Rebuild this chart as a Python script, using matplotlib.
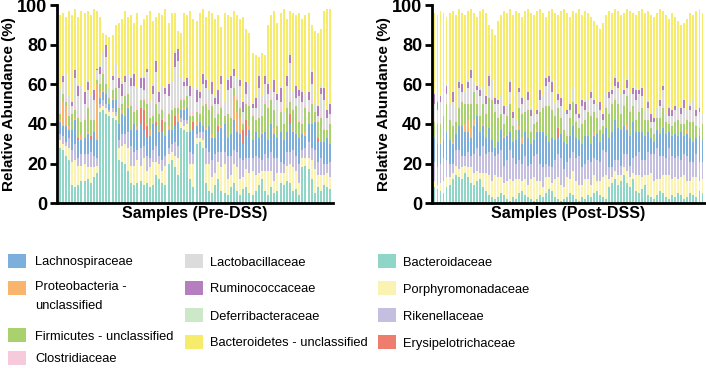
import numpy as np
import matplotlib.pyplot as plt
from matplotlib.patches import Rectangle

plt.rcParams['font.family'] = ['Liberation Sans', 'DejaVu Sans']

# families in stacking order (bottom -> top), last one fills up to the total
families = ["Bacteroidaceae", "Porphyromonadaceae", "Rikenellaceae", "Lachnospiraceae",
            "Erysipelotrichaceae", "Proteobacteria - unclassified", "Firmicutes - unclassified",
            "Clostridiaceae", "Lactobacillaceae", "Ruminococcaceae", "Deferribacteraceae",
            "Bacteroidetes - unclassified"]
colors = {
    "Lachnospiraceae": "#7DAFDC",
    "Proteobacteria - unclassified": "#F9B46E",
    "Firmicutes - unclassified": "#A9D16E",
    "Clostridiaceae": "#F6CADB",
    "Lactobacillaceae": "#DCDCDC",
    "Ruminococcaceae": "#B57EBF",
    "Deferribacteraceae": "#CDE8C9",
    "Bacteroidetes - unclassified": "#F7EB6C",
    "Bacteroidaceae": "#8FD6C6",
    "Porphyromonadaceae": "#FAF3B2",
    "Rikenellaceae": "#C4BFE0",
    "Erysipelotrichaceae": "#EE7D6E",
}

# ---- Pre-DSS (88 samples) ----
pre_bacteroidaceae = [28, 27, 24, 22, 9, 8, 9, 11, 11, 12, 10, 13, 15, 46, 47, 45,
                      44, 43, 42, 22, 21, 20, 16, 10, 9, 10, 11, 9, 10, 8, 9, 14,
                      12, 10, 9, 20, 22, 18, 14, 38, 37, 36, 12, 8, 30, 31, 28, 10,
                      6, 5, 9, 12, 6, 5, 4, 8, 10, 6, 4, 7, 8, 5, 4, 6,
                      9, 12, 6, 4, 8, 5, 6, 10, 9, 11, 10, 6, 7, 4, 18, 19,
                      17, 12, 5, 8, 6, 9, 8, 7]
pre_porphyromonadaceae = [4, 3, 5, 6, 12, 14, 10, 8, 9, 6, 8, 5, 4, 2, 2, 3,
                          2, 3, 2, 6, 8, 10, 12, 9, 10, 12, 8, 14, 6, 10, 12, 7,
                          8, 6, 10, 5, 4, 6, 9, 3, 2, 4, 8, 12, 3, 2, 4, 10,
                          14, 8, 6, 9, 12, 15, 8, 6, 10, 12, 8, 6, 9, 10, 12, 8,
                          6, 4, 10, 12, 8, 6, 9, 5, 6, 8, 10, 12, 9, 6, 5, 4,
                          6, 10, 12, 6, 8, 5, 7, 6]
pre_rikenellaceae = [3, 4, 2, 5, 6, 8, 4, 6, 5, 7, 8, 6, 4, 2, 3, 2,
                     1, 2, 2, 4, 6, 5, 8, 10, 7, 5, 9, 6, 8, 5, 6, 8,
                     4, 6, 5, 3, 4, 7, 6, 2, 3, 2, 6, 5, 2, 3, 4, 8,
                     6, 9, 10, 5, 8, 6, 12, 10, 7, 8, 11, 9, 6, 8, 7, 10,
                     8, 6, 9, 7, 10, 12, 8, 6, 5, 7, 6, 9, 8, 10, 4, 5,
                     8, 6, 10, 7, 9, 6, 5, 8]
pre_lachnospiraceae = [6, 5, 8, 4, 10, 12, 9, 7, 8, 10, 6, 12, 9, 3, 4, 5,
                       3, 4, 6, 8, 10, 9, 12, 8, 14, 10, 12, 8, 9, 11, 13, 10,
                       12, 14, 10, 9, 7, 8, 12, 4, 5, 6, 10, 12, 4, 5, 3, 9,
                       13, 11, 8, 10, 12, 14, 9, 11, 15, 10, 12, 8, 11, 14, 9, 12,
                       10, 13, 11, 9, 14, 12, 10, 15, 12, 10, 14, 9, 11, 13, 8, 6,
                       9, 12, 14, 10, 8, 11, 13, 9]
pre_erysipelotrichaceae = [0, 0, 0, 0, 0, 0, 1, 0, 0, 0, 2, 0, 0, 0, 0, 0,
                           0, 0, 0, 0, 0, 0, 0, 0, 0, 0, 8, 10, 6, 0, 0, 2,
                           0, 6, 0, 0, 0, 5, 0, 0, 0, 0, 0, 4, 0, 0, 0, 0,
                           0, 0, 0, 3, 0, 0, 0, 0, 0, 0, 0, 7, 8, 0, 0, 0,
                           0, 0, 0, 0, 0, 0, 0, 0, 0, 0, 5, 0, 0, 0, 0, 0,
                           0, 0, 0, 2, 0, 0, 0, 0]
pre_proteobacteria = [1, 12, 10, 2, 0, 1, 0, 3, 0, 1, 0, 0, 28, 3, 1, 0,
                      0, 1, 0, 0, 2, 0, 1, 0, 0, 2, 0, 0, 1, 3, 0, 0,
                      1, 0, 0, 2, 0, 0, 4, 0, 1, 0, 0, 0, 2, 0, 0, 1,
                      0, 2, 0, 0, 1, 0, 0, 0, 12, 10, 8, 0, 0, 2, 0, 0,
                      0, 1, 0, 0, 0, 3, 0, 0, 0, 0, 0, 1, 0, 0, 0, 2,
                      0, 0, 1, 0, 0, 0, 0, 0]
pre_firmicutes = [3, 4, 2, 5, 8, 4, 10, 6, 9, 12, 8, 6, 2, 4, 8, 5,
                  3, 4, 6, 8, 3, 10, 6, 12, 6, 8, 4, 5, 10, 6, 4, 9,
                  8, 5, 7, 6, 10, 4, 3, 5, 4, 6, 8, 3, 5, 4, 10, 12,
                  8, 14, 10, 6, 9, 4, 12, 8, 4, 6, 5, 3, 8, 10, 12, 6,
                  10, 8, 14, 16, 12, 9, 6, 10, 8, 12, 6, 10, 14, 8, 5, 12,
                  6, 10, 4, 8, 12, 6, 4, 10]
pre_clostridiaceae = [1, 0, 2, 1, 0, 2, 1, 0, 2, 1, 0, 1, 0, 1, 2, 0,
                      1, 0, 1, 2, 0, 1, 0, 2, 1, 2, 0, 1, 2, 0, 1, 1,
                      0, 1, 2, 1, 0, 1, 2, 1, 1, 0, 1, 2, 1, 0, 1, 2,
                      2, 1, 0, 1, 2, 1, 0, 1, 1, 2, 1, 0, 1, 2, 1, 0,
                      1, 0, 2, 1, 1, 0, 1, 2, 0, 1, 2, 1, 0, 1, 2, 1,
                      1, 2, 0, 1, 2, 1, 0, 1]
pre_lactobacillaceae = [10, 6, 12, 8, 4, 14, 10, 18, 6, 8, 12, 9, 5, 4, 10, 14,
                        3, 5, 12, 8, 4, 6, 10, 8, 12, 9, 6, 4, 14, 8, 10, 15,
                        6, 10, 12, 8, 14, 20, 22, 10, 6, 5, 9, 12, 4, 8, 10, 6,
                        8, 5, 7, 4, 10, 6, 12, 14, 5, 8, 10, 6, 4, 8, 3, 6,
                        14, 10, 8, 6, 4, 9, 12, 3, 6, 10, 18, 8, 4, 12, 9, 6,
                        5, 8, 4, 2, 10, 14, 6, 4]
pre_ruminococcaceae = [0, 3, 0, 0, 2, 4, 5, 0, 6, 4, 0, 5, 1, 4, 0, 6,
                       0, 2, 0, 5, 6, 3, 0, 4, 6, 0, 5, 6, 2, 0, 4, 6,
                       5, 0, 3, 6, 0, 7, 6, 0, 2, 4, 5, 0, 6, 3, 5, 4,
                       0, 6, 3, 7, 4, 0, 5, 6, 4, 0, 3, 5, 6, 0, 2, 5,
                       6, 0, 4, 5, 0, 6, 3, 7, 0, 5, 4, 0, 6, 3, 5, 0,
                       4, 6, 0, 5, 3, 6, 4, 5]
pre_deferribacteraceae = [1, 0, 0, 1, 0, 0, 1, 0, 0, 1, 0, 0, 0, 1, 0, 0,
                          1, 0, 0, 0, 1, 0, 0, 1, 0, 0, 0, 1, 0, 0, 1, 0,
                          0, 1, 0, 0, 0, 1, 0, 0, 1, 0, 0, 0, 1, 0, 0, 1,
                          0, 0, 1, 0, 0, 0, 1, 0, 0, 1, 0, 0, 0, 1, 0, 0,
                          1, 0, 0, 1, 0, 0, 0, 1, 0, 0, 1, 0, 0, 0, 1, 0,
                          0, 1, 0, 0, 1, 0, 0, 0]
pre_total = [95, 96, 94, 97, 95, 98, 94, 97, 96, 97, 95, 98, 97, 94, 86, 85,
             84, 85, 90, 91, 93, 97, 94, 95, 91, 96, 90, 93, 95, 97, 92, 94,
             96, 95, 98, 91, 96, 96, 87, 86, 96, 95, 97, 93, 92, 96, 98, 94,
             97, 96, 93, 95, 89, 96, 95, 94, 97, 95, 93, 94, 88, 86, 76, 75,
             74, 76, 75, 90, 95, 97, 91, 96, 98, 93, 97, 96, 95, 96, 93, 95,
             96, 90, 87, 86, 88, 97, 98, 98]

# ---- Post-DSS (90 samples) ----
post_bacteroidaceae = [8, 7, 6, 5, 8, 9, 12, 14, 13, 12, 15, 13, 10, 9, 11, 12, 8, 6, 4, 3,
                       2, 3, 5, 4, 2, 1, 3, 2, 5, 6, 4, 3, 2, 1, 2, 4, 3, 5, 7, 6,
                       3, 2, 1, 2, 3, 5, 4, 2, 1, 3, 2, 4, 3, 5, 6, 4, 3, 2, 8, 10,
                       12, 9, 11, 14, 10, 8, 12, 6, 5, 7, 9, 4, 3, 2, 4, 6, 5, 3, 2, 4,
                       3, 5, 4, 2, 3, 5, 4, 3, 6, 5]
post_porphyromonadaceae = [3, 2, 4, 6, 5, 4, 3, 5, 4, 6, 4, 5, 8, 6, 5, 3, 7, 9, 10, 8,
                           12, 10, 8, 6, 9, 11, 8, 10, 7, 5, 8, 6, 10, 12, 9, 7, 5, 8, 6, 4,
                           9, 11, 8, 6, 10, 7, 12, 9, 8, 6, 10, 8, 6, 9, 5, 7, 10, 12, 4, 3,
                           4, 5, 3, 4, 6, 5, 3, 8, 9, 6, 5, 10, 12, 9, 8, 6, 9, 11, 12, 8,
                           10, 7, 9, 12, 8, 6, 9, 10, 5, 7]
post_rikenellaceae = [10, 9, 10, 12, 9, 7, 5, 8, 10, 6, 5, 8, 6, 10, 12, 9, 14, 10, 12, 15,
                      10, 12, 14, 9, 11, 15, 12, 8, 10, 9, 12, 10, 8, 11, 14, 9, 10, 7, 6, 8,
                      10, 12, 14, 9, 8, 11, 10, 12, 15, 9, 8, 10, 12, 9, 11, 10, 14, 12, 6, 5,
                      6, 8, 5, 7, 9, 6, 8, 10, 12, 9, 8, 12, 10, 14, 16, 12, 10, 9, 14, 12,
                      10, 12, 9, 11, 13, 10, 8, 12, 10, 9]
post_lachnospiraceae = [12, 12, 10, 9, 14, 12, 10, 8, 12, 15, 12, 10, 9, 14, 16, 12, 10, 8, 12, 6,
                        4, 6, 10, 14, 12, 9, 8, 12, 15, 10, 12, 14, 10, 8, 11, 16, 18, 14, 12, 15,
                        10, 8, 12, 14, 9, 11, 13, 10, 8, 12, 14, 12, 9, 11, 13, 10, 8, 12, 15, 18,
                        20, 16, 18, 14, 12, 15, 18, 12, 10, 14, 12, 10, 8, 6, 9, 11, 14, 12, 8, 10,
                        12, 10, 14, 9, 11, 12, 10, 8, 13, 11]
post_erysipelotrichaceae = [0, 0, 0, 0, 0, 0, 0, 0, 0, 0, 0, 0, 0, 0, 0, 0, 0, 0, 0, 0,
                            0, 0, 0, 0, 0, 0, 0, 0, 0, 0, 0, 0, 0, 0, 0, 0, 0, 0, 0, 0,
                            0, 5, 0, 0, 0, 0, 0, 0, 0, 0, 0, 0, 0, 0, 0, 0, 0, 0, 0, 0,
                            0, 0, 0, 0, 0, 0, 0, 0, 0, 0, 0, 0, 0, 0, 0, 0, 0, 0, 0, 0,
                            0, 0, 0, 0, 0, 0, 0, 0, 0, 0]
post_proteobacteria = [0, 0, 1, 0, 0, 0, 1, 0, 0, 0, 4, 6, 5, 3, 0, 0, 1, 0, 0, 0,
                       0, 0, 0, 1, 0, 0, 0, 0, 2, 3, 0, 0, 0, 0, 1, 0, 0, 0, 0, 0,
                       0, 0, 0, 0, 0, 0, 0, 0, 0, 0, 0, 0, 0, 2, 0, 0, 0, 0, 0, 0,
                       0, 0, 0, 0, 3, 0, 0, 0, 0, 0, 0, 0, 0, 0, 0, 0, 0, 0, 0, 0,
                       0, 0, 0, 0, 2, 0, 0, 0, 0, 0]
post_firmicutes = [8, 10, 9, 12, 14, 10, 8, 6, 9, 12, 10, 8, 12, 14, 6, 8, 10, 12, 15, 20,
                   18, 12, 8, 6, 10, 14, 8, 5, 9, 12, 10, 14, 6, 8, 4, 10, 12, 15, 18, 14,
                   12, 10, 8, 6, 4, 9, 12, 8, 6, 10, 8, 12, 14, 10, 8, 6, 4, 10, 12, 14,
                   10, 12, 8, 10, 14, 12, 8, 6, 10, 12, 8, 6, 5, 4, 6, 8, 10, 6, 4, 5,
                   6, 8, 4, 6, 5, 8, 10, 6, 4, 8]
post_clostridiaceae = [1, 0, 1, 0, 1, 0, 0, 1, 0, 1, 0, 0, 1, 0, 1, 0, 0, 1, 0, 1,
                       0, 1, 0, 0, 1, 0, 1, 0, 0, 1, 0, 1, 0, 0, 1, 0, 1, 0, 0, 1,
                       0, 0, 1, 0, 1, 0, 0, 1, 0, 1, 0, 0, 1, 0, 1, 0, 0, 1, 0, 1,
                       1, 0, 0, 1, 0, 1, 0, 0, 1, 0, 1, 0, 0, 1, 0, 0, 1, 0, 1, 0,
                       0, 1, 0, 0, 1, 0, 1, 0, 0, 1]
post_lactobacillaceae = [8, 7, 10, 6, 4, 8, 12, 6, 10, 4, 6, 8, 12, 5, 6, 10, 8, 4, 6, 9,
                         4, 6, 8, 5, 4, 6, 3, 5, 8, 4, 6, 4, 8, 5, 3, 6, 4, 10, 12, 8,
                         6, 4, 5, 8, 10, 4, 6, 3, 5, 8, 5, 6, 8, 4, 6, 10, 3, 5, 8, 4,
                         6, 8, 10, 5, 4, 8, 6, 10, 8, 6, 4, 6, 3, 5, 4, 6, 8, 4, 3, 5,
                         6, 4, 5, 8, 4, 6, 10, 5, 8, 4]
post_ruminococcaceae = [5, 4, 3, 0, 4, 0, 5, 0, 3, 4, 0, 3, 4, 0, 2, 3, 0, 4, 5, 0,
                        3, 2, 0, 4, 0, 5, 3, 0, 2, 3, 0, 4, 3, 0, 2, 5, 0, 4, 3, 5,
                        0, 3, 4, 0, 2, 3, 0, 5, 2, 3, 4, 0, 3, 2, 0, 4, 3, 0, 3, 2,
                        4, 3, 0, 2, 4, 0, 3, 5, 2, 4, 0, 3, 4, 2, 0, 3, 2, 0, 4, 3,
                        2, 0, 3, 4, 0, 2, 0, 3, 2, 0]
post_deferribacteraceae = [0, 1, 0, 0, 1, 0, 0, 0, 1, 0, 0, 1, 0, 0, 0, 1, 0, 0, 1, 0,
                           0, 0, 1, 0, 0, 1, 0, 0, 0, 1, 0, 0, 1, 0, 0, 0, 1, 0, 0, 1,
                           0, 0, 0, 1, 0, 0, 1, 0, 0, 0, 1, 0, 0, 1, 0, 0, 0, 1, 0, 0,
                           1, 0, 0, 0, 1, 0, 0, 1, 0, 0, 0, 1, 0, 0, 1, 0, 0, 0, 1, 0,
                           0, 1, 0, 0, 0, 1, 0, 0, 1, 0]
post_total = [96, 95, 97, 96, 94, 96, 97, 95, 98, 96, 95, 97, 98, 96, 94, 97, 98, 96, 90, 88,
              85, 92, 95, 97, 96, 98, 95, 97, 96, 94, 97, 98, 96, 95, 97, 98, 96, 94, 97, 98,
              96, 95, 97, 98, 96, 94, 97, 96, 98, 95, 97, 96, 94, 92, 90, 88, 91, 95, 97, 96,
              98, 97, 95, 96, 98, 97, 96, 95, 97, 98, 96, 97, 95, 94, 96, 98, 97, 95, 93, 96,
              94, 92, 90, 91, 93, 96, 95, 97, 98, 96]

pre_layers = [pre_bacteroidaceae, pre_porphyromonadaceae, pre_rikenellaceae, pre_lachnospiraceae,
              pre_erysipelotrichaceae, pre_proteobacteria, pre_firmicutes, pre_clostridiaceae,
              pre_lactobacillaceae, pre_ruminococcaceae, pre_deferribacteraceae]
post_layers = [post_bacteroidaceae, post_porphyromonadaceae, post_rikenellaceae, post_lachnospiraceae,
               post_erysipelotrichaceae, post_proteobacteria, post_firmicutes, post_clostridiaceae,
               post_lactobacillaceae, post_ruminococcaceae, post_deferribacteraceae]


def stacked(ax, layers, total, xlabel):
    layers = [np.array(l, dtype=float) for l in layers]
    top = np.array(total, dtype=float) - np.sum(layers, axis=0)
    layers.append(top)
    x = np.arange(len(total))
    bottom = np.zeros(len(total))
    for name, vals in zip(families, layers):
        ax.bar(x, vals, 0.64, bottom=bottom, color=colors[name], linewidth=0)
        bottom += vals
    ax.set_xlim(-0.8, len(total) - 0.3)
    ax.set_ylim(0, 100)
    ax.set_yticks([0, 20, 40, 60, 80, 100])
    ax.set_xticks([])
    for s in ["top", "right"]:
        ax.spines[s].set_visible(False)
    for s in ["left", "bottom"]:
        ax.spines[s].set_linewidth(2)
    ax.tick_params(axis="y", width=2, length=5, pad=2, labelsize=13)
    for lab in ax.get_yticklabels():
        lab.set_fontweight("bold")
    ax.set_xlabel(xlabel, fontsize=11.5, fontweight="bold", labelpad=2)
    ax.set_ylabel("Relative Abundance (%)", fontsize=11, fontweight="bold", labelpad=1)


fig = plt.figure(figsize=(7.06, 3.68), dpi=100)
ax1 = fig.add_axes([0.081, 0.448, 0.390, 0.538])
ax2 = fig.add_axes([0.612, 0.448, 0.386, 0.538])
stacked(ax1, pre_layers, pre_total, "Samples (Pre-DSS)")
stacked(ax2, post_layers, post_total, "Samples (Post-DSS)")

# legend, three columns laid out like the original
legend_cols = [
    [("Lachnospiraceae", "Lachnospiraceae", 261),
     ("Proteobacteria - unclassified", "Proteobacteria -\nunclassified", 288),
     ("Firmicutes - unclassified", "Firmicutes - unclassified", 335),
     ("Clostridiaceae", "Clostridiaceae", 358)],
    [("Lactobacillaceae", "Lactobacillaceae", 261),
     ("Ruminococcaceae", "Ruminococcaceae", 288),
     ("Deferribacteraceae", "Deferribacteraceae", 315),
     ("Bacteroidetes - unclassified", "Bacteroidetes - unclassified", 342)],
    [("Bacteroidaceae", "Bacteroidaceae", 261),
     ("Porphyromonadaceae", "Porphyromonadaceae", 288),
     ("Rikenellaceae", "Rikenellaceae", 315),
     ("Erysipelotrichaceae", "Erysipelotrichaceae", 342)],
]
col_x = [(8, 35), (185, 210), (378, 403)]
W, H = 706.0, 368.0
for (px, tx), col in zip(col_x, legend_cols):
    for key, label, y in col:
        fig.patches.append(Rectangle((px / W, 1 - (y + 7) / H), 18 / W, 14 / H,
                                     transform=fig.transFigure, color=colors[key], linewidth=0))
        if "\n" in label:
            fig.text(tx / W, 1 - (y - 7) / H, label, fontsize=9.3,
                     va="top", ha="left", linespacing=1.75)
        else:
            fig.text(tx / W, 1 - y / H, label, fontsize=9.3,
                     va="center_baseline", ha="left")

fig.savefig("out.png", dpi=100)
